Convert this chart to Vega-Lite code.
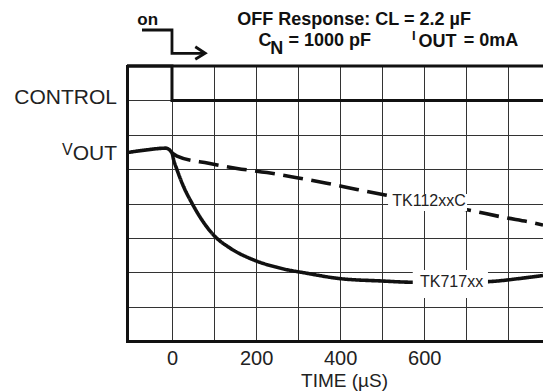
{
  "$schema": "https://vega.github.io/schema/vega-lite/v6.json",
  "width": 416,
  "height": 275,
  "autosize": {"type": "none"},
  "padding": {"left": 127, "top": 66, "right": 0, "bottom": 50},
  "background": "white",
  "config": {"view": {"stroke": null}, "font": "Liberation Sans"},
  "datasets": {
    "control": [
      {"i": 0, "t": -107, "v": 8},
      {"i": 1, "t": 0, "v": 8},
      {"i": 2, "t": 0, "v": 7},
      {"i": 3, "t": 882.5, "v": 7}
    ],
    "curves": [
      {"series": "TK717xx", "i": 0, "t": -107, "v": 5.48},
      {"series": "TK717xx", "i": 1, "t": -60, "v": 5.56},
      {"series": "TK717xx", "i": 2, "t": -15, "v": 5.61},
      {"series": "TK717xx", "i": 3, "t": 0, "v": 5.47},
      {"series": "TK717xx", "i": 4, "t": 4, "v": 5.27},
      {"series": "TK717xx", "i": 5, "t": 12, "v": 4.98},
      {"series": "TK717xx", "i": 6, "t": 27.6, "v": 4.49},
      {"series": "TK717xx", "i": 7, "t": 47.5, "v": 4.01},
      {"series": "TK717xx", "i": 8, "t": 71.3, "v": 3.52},
      {"series": "TK717xx", "i": 9, "t": 99, "v": 3.08},
      {"series": "TK717xx", "i": 10, "t": 138.6, "v": 2.7},
      {"series": "TK717xx", "i": 11, "t": 194, "v": 2.36},
      {"series": "TK717xx", "i": 12, "t": 257, "v": 2.12},
      {"series": "TK717xx", "i": 13, "t": 321, "v": 1.97},
      {"series": "TK717xx", "i": 14, "t": 396, "v": 1.82},
      {"series": "TK717xx", "i": 15, "t": 500, "v": 1.745},
      {"series": "TK717xx", "i": 16, "t": 566, "v": 1.71},
      {"series": "TK717xx", "i": 17, "t": 661, "v": 1.7},
      {"series": "TK717xx", "i": 18, "t": 756, "v": 1.73},
      {"series": "TK717xx", "i": 19, "t": 828, "v": 1.82},
      {"series": "TK717xx", "i": 20, "t": 882.5, "v": 1.905},
      {"series": "TK112xxC", "i": 0, "t": 0, "v": 5.47},
      {"series": "TK112xxC", "i": 1, "t": 12, "v": 5.38},
      {"series": "TK112xxC", "i": 2, "t": 87, "v": 5.17},
      {"series": "TK112xxC", "i": 3, "t": 154.5, "v": 5.02},
      {"series": "TK112xxC", "i": 4, "t": 226, "v": 4.9},
      {"series": "TK112xxC", "i": 5, "t": 297, "v": 4.75},
      {"series": "TK112xxC", "i": 6, "t": 368, "v": 4.59},
      {"series": "TK112xxC", "i": 7, "t": 440, "v": 4.41},
      {"series": "TK112xxC", "i": 8, "t": 507, "v": 4.25},
      {"series": "TK112xxC", "i": 9, "t": 705, "v": 3.81},
      {"series": "TK112xxC", "i": 10, "t": 788, "v": 3.6},
      {"series": "TK112xxC", "i": 11, "t": 859, "v": 3.44},
      {"series": "TK112xxC", "i": 12, "t": 882.5, "v": 3.375}
    ],
    "arrow": [
      {"part": "shaft", "i": 0, "t": -71.3, "v": 9.047},
      {"part": "shaft", "i": 1, "t": 0, "v": 9.047},
      {"part": "shaft", "i": 2, "t": 0, "v": 8.369},
      {"part": "shaft", "i": 3, "t": 78, "v": 8.369},
      {"part": "head", "i": 0, "t": 55.4, "v": 8.561},
      {"part": "head", "i": 1, "t": 79.1, "v": 8.369},
      {"part": "head", "i": 2, "t": 55.4, "v": 8.195}
    ],
    "labels": [
      {"label": "TK112xxC", "t": 611.5, "v": 4.073},
      {"label": "TK717xx", "t": 665, "v": 1.725}
    ],
    "notes": [
      {"role": "title", "text": "OFF Response: CL = 2.2 µF", "t": 433.3, "v": 9.193},
      {"role": "part", "text": "C", "t": 205.8, "v": 8.582},
      {"role": "part", "text": "N", "t": 233.6, "v": 8.34},
      {"role": "part", "text": "= 1000 pF", "t": 277.1, "v": 8.582},
      {"role": "part", "text": "OUT", "t": 586.1, "v": 8.561},
      {"role": "part", "text": "= 0mA", "t": 694, "v": 8.582},
      {"role": "small", "text": "I", "t": 571, "v": 8.75},
      {"role": "on", "text": "on", "t": -82.5, "v": 9.193},
      {"role": "side", "text": "CONTROL", "t": -130.7, "v": 6.895},
      {"role": "side", "text": "OUT", "t": -130.7, "v": 5.265},
      {"role": "sideSmall", "text": "V", "t": -261.4, "v": 5.411}
    ]
  },
  "layer": [
    {
      "encoding": {
        "x": {
          "field": "t",
          "type": "quantitative",
          "scale": {"domain": [-107, 882.5], "nice": false, "zero": false},
          "axis": {
            "values": [0, 100, 200, 300, 400, 500, 600, 700, 800],
            "grid": true,
            "gridColor": "#333",
            "gridWidth": 1,
            "gridOpacity": 1,
            "ticks": false,
            "domain": true,
            "domainColor": "#111",
            "domainWidth": 3,
            "domainCap": "square",
            "labelExpr": "datum.value >= 0 && datum.value <= 600 && datum.value % 200 === 0 ? datum.label : ''",
            "labelFont": "Liberation Sans",
            "labelFontSize": 20,
            "labelColor": "#222",
            "labelPadding": 7,
            "labelFlush": false,
            "labelOverlap": false,
            "title": "TIME (µS)",
            "titleFont": "Liberation Sans",
            "titleFontSize": 19,
            "titleFontWeight": "normal",
            "titleColor": "#222",
            "titleX": 217,
            "titleY": 45,
            "titleAlign": "center",
            "titleBaseline": "alphabetic"
          }
        },
        "y": {
          "field": "v",
          "type": "quantitative",
          "scale": {"domain": [0, 8], "nice": false, "zero": false},
          "axis": {
            "values": [1, 2, 3, 4, 5, 6, 7],
            "grid": true,
            "gridColor": "#333",
            "gridWidth": 1,
            "gridOpacity": 1,
            "ticks": false,
            "labels": false,
            "title": null,
            "domain": true,
            "domainColor": "#111",
            "domainWidth": 3,
            "domainCap": "square"
          }
        }
      },
      "layer": [
        {
          "data": {"name": "control"},
          "mark": {"type": "line", "color": "#111", "strokeWidth": 3, "strokeJoin": "miter"},
          "encoding": {"order": {"field": "i", "type": "quantitative"}}
        },
        {
          "data": {"name": "curves"},
          "mark": {"type": "line", "interpolate": "monotone", "color": "#111", "strokeWidth": 3.6},
          "encoding": {
            "detail": {"field": "series", "type": "nominal"},
            "strokeDash": {
              "field": "series",
              "type": "nominal",
              "scale": {"domain": ["TK717xx", "TK112xxC"], "range": [[1, 0], [20, 8.5]]},
              "legend": null
            },
            "order": {"field": "i", "type": "quantitative"}
          }
        },
        {
          "data": {"name": "labels"},
          "transform": [{"filter": "datum.label === 'TK112xxC'"}],
          "mark": {"type": "point", "shape": "M-1.025,-0.175H0.95V0.25H-1.025Z", "size": 6400, "filled": true, "color": "white", "fill": "white", "strokeWidth": 0, "opacity": 1}
        },
        {
          "data": {"name": "labels"},
          "transform": [{"filter": "datum.label === 'TK717xx'"}],
          "mark": {"type": "point", "shape": "M-0.97,-0.29H0.91V0.41H-0.97Z", "size": 6400, "filled": true, "color": "white", "fill": "white", "strokeWidth": 0, "opacity": 1}
        },
        {
          "data": {"name": "labels"},
          "mark": {"type": "text", "font": "Liberation Sans", "fontSize": 16, "color": "#222", "align": "center", "baseline": "middle"},
          "encoding": {"text": {"field": "label"}}
        },
        {
          "data": {"name": "arrow"},
          "mark": {"type": "line", "color": "#111", "strokeWidth": 2.8, "strokeJoin": "miter"},
          "encoding": {
            "detail": {"field": "part", "type": "nominal"},
            "order": {"field": "i", "type": "quantitative"}
          }
        },
        {
          "data": {"name": "notes"},
          "transform": [{"filter": "datum.role === 'title'"}],
          "mark": {"type": "text", "font": "Liberation Sans", "fontSize": 18, "fontWeight": "bold", "color": "#111", "align": "center", "baseline": "alphabetic"},
          "encoding": {"text": {"field": "text"}}
        },
        {
          "data": {"name": "notes"},
          "transform": [{"filter": "datum.role === 'part'"}],
          "mark": {"type": "text", "font": "Liberation Sans", "fontSize": 18, "fontWeight": "bold", "color": "#111", "align": "left", "baseline": "alphabetic"},
          "encoding": {"text": {"field": "text"}}
        },
        {
          "data": {"name": "notes"},
          "transform": [{"filter": "datum.role === 'small'"}],
          "mark": {"type": "text", "font": "Liberation Sans", "fontSize": 13, "fontWeight": "bold", "color": "#111", "align": "left", "baseline": "alphabetic"},
          "encoding": {"text": {"field": "text"}}
        },
        {
          "data": {"name": "notes"},
          "transform": [{"filter": "datum.role === 'on'"}],
          "mark": {"type": "text", "font": "Liberation Sans", "fontSize": 17, "fontWeight": "bold", "color": "#111", "align": "left", "baseline": "alphabetic"},
          "encoding": {"text": {"field": "text"}}
        },
        {
          "data": {"name": "notes"},
          "transform": [{"filter": "datum.role === 'side'"}],
          "mark": {"type": "text", "font": "Liberation Sans", "fontSize": 21, "color": "#222", "align": "right", "baseline": "alphabetic"},
          "encoding": {"text": {"field": "text"}}
        },
        {
          "data": {"name": "notes"},
          "transform": [{"filter": "datum.role === 'sideSmall'"}],
          "mark": {"type": "text", "font": "Liberation Sans", "fontSize": 16, "color": "#222", "align": "left", "baseline": "alphabetic"},
          "encoding": {"text": {"field": "text"}}
        }
      ]
    },
    {
      "data": {"values": [{"edge": "top"}]},
      "mark": {"type": "rule", "color": "#111", "strokeWidth": 3},
      "encoding": {
        "y": {"datum": 8}
      }
    }
  ]
}
